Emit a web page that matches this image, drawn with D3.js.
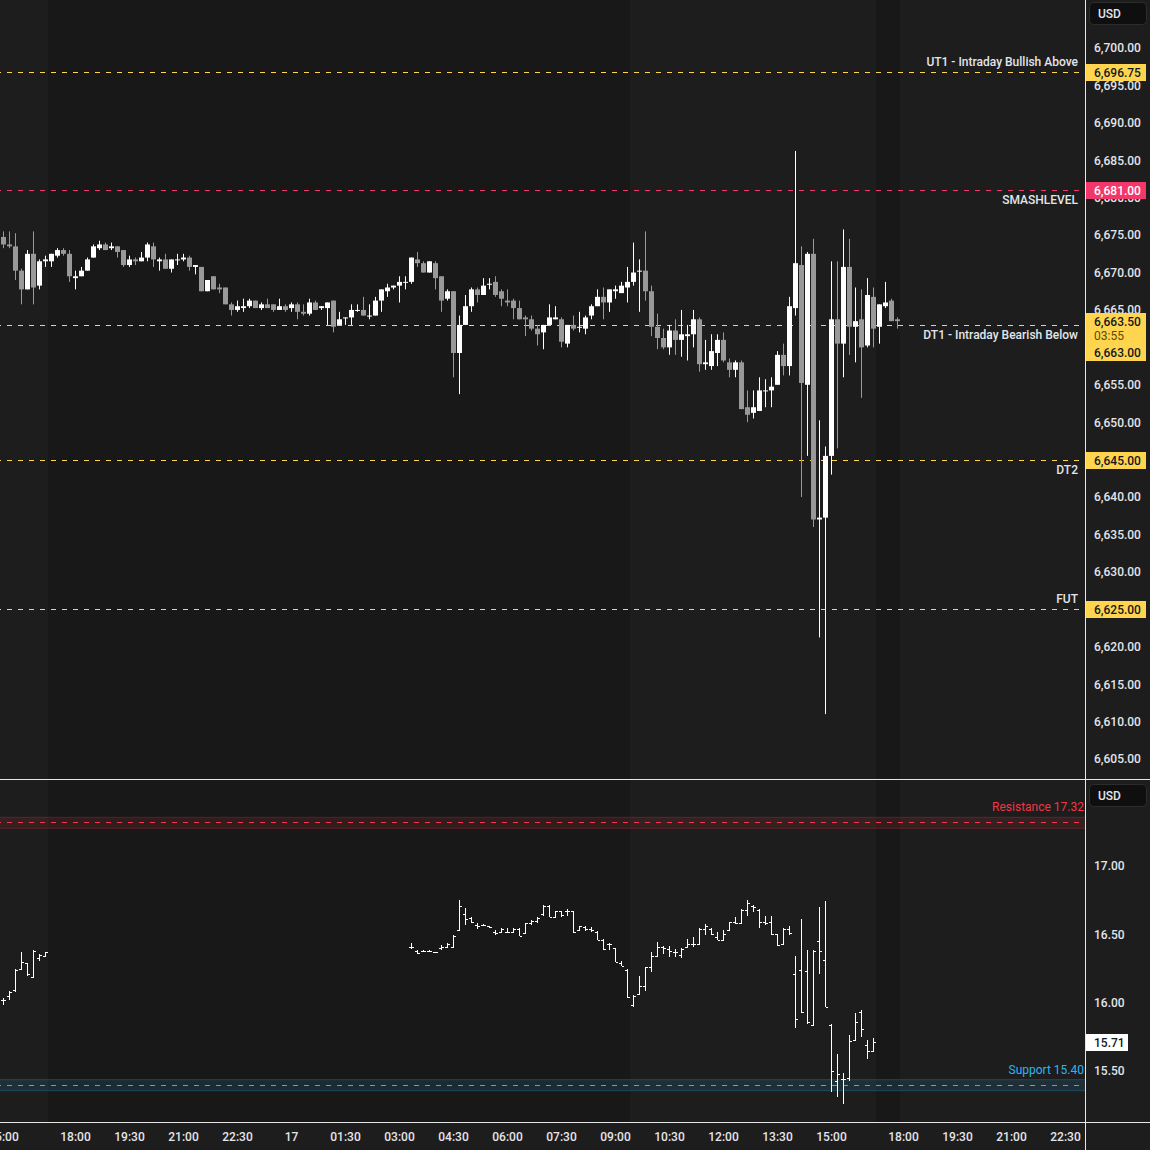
<!DOCTYPE html>
<html>
<head>
<meta charset="utf-8">
<script src="https://cdn.jsdelivr.net/npm/d3@7"></script>
<style>
  body { margin: 0; background: #1d1d1d; overflow: hidden; }
  svg text { font-family: Roboto, "Noto Sans", sans-serif; }
</style>
</head>
<body>
<div id="chart"></div>
<script>
// ES 10 min candles, [open, high, low, close], bar 0 = 15:00 on the 16th
const esBars = [
  [6674.75,6675.5,6673.25,6673.75],[6673.75,6675.5,6673.25,6673.5],[6673.5,6675.25,6669,6670.25],[6670.25,6670.5,6665.75,6667.75],
  [6667.75,6673,6667.75,6672.5],[6672.5,6675.5,6665.75,6668],[6668.25,6671.75,6667.75,6671.5],[6671.5,6672.25,6670.75,6671.75],
  [6671.5,6672.5,6670.75,6672.5],[6672.25,6673.25,6672,6673],[6673,6673.25,6672.25,6672.5],[6672.5,6673,6668.75,6669.5],
  [6669.25,6670.25,6667.75,6669.5],[6669.5,6670.75,6669.5,6670.25],[6670.25,6672,6670.25,6671.75],[6672,6673.75,6672,6673.5],
  [6673.25,6674.25,6673,6673.75],[6673.75,6674,6673,6673],[6673.25,6674,6673,6673.5],[6673.5,6673.5,6672,6672.75],
  [6673,6673,6670.75,6671],[6671,6672.25,6670.75,6671.75],[6671.75,6672,6671,6671.5],[6671.5,6672.75,6671.5,6672],
  [6672,6674,6671.5,6673.75],[6673.5,6674,6670.75,6671.75],[6671.5,6672,6670.25,6671.75],[6671.75,6672.5,6670.5,6670.5],
  [6670.5,6671.75,6670,6671.75],[6671.75,6672.5,6671,6671.75],[6671.75,6672.5,6671.5,6672],[6672,6672.25,6670.25,6670.75],
  [6670.75,6671,6669.75,6671],[6670.75,6670.75,6667.5,6667.5],[6667.5,6669,6667.5,6669],[6669.5,6669.5,6667.75,6667.75],
  [6668,6668.5,6667.25,6667.75],[6668,6668,6665.75,6665.75],[6665.75,6666,6664.25,6665],[6665,6666.25,6664.75,6665.5],
  [6665.25,6666.5,6664.75,6665.5],[6665.5,6666.5,6665.25,6666.25],[6666.25,6666.25,6665.25,6665.25],[6665.25,6666,6665,6665.75],
  [6665.75,6666.5,6665.25,6665.25],[6665.75,6665.75,6664.75,6665],[6665,6666.5,6665,6665.5],[6665.5,6665.75,6664.75,6665],
  [6665.25,6666,6664.75,6665.75],[6665.75,6666,6663.75,6664.75],[6664.75,6665.75,6664.25,6664.5],[6664.5,6666.5,6664.25,6666],
  [6666,6666.25,6665,6665],[6665.25,6665.5,6665,6665.5],[6665.25,6666,6663,6666],[6666.25,6666.25,6662,6662.75],
  [6663,6664.75,6663,6663.75],[6664,6664,6663,6664],[6664,6665.75,6663,6665],[6665,6665.75,6664.75,6665],
  [6665,6666.75,6664.25,6664.25],[6664.25,6665.75,6663.75,6664.25],[6664.25,6666.75,6664.25,6666.25],[6666.25,6667.75,6664.75,6667.75],
  [6667.5,6668.5,6666.75,6668],[6668,6668.25,6667.75,6668.25],[6668.25,6669.5,6666,6668.75],[6668.75,6669.5,6667.75,6668.75],
  [6668.75,6672,6668.5,6672],[6671.75,6672.75,6670.75,6671.25],[6671.25,6671.5,6670,6670],[6670,6671.5,6670,6671.5],
  [6671.25,6671.5,6667.75,6669.25],[6669.5,6669.5,6664.75,6666.25],[6666.5,6667.75,6666.25,6667.5],[6667.5,6667.5,6656,6659.25],
  [6659.25,6664.25,6653.75,6663],[6663,6667,6663,6665.5],[6665.5,6668,6664.75,6667.75],[6667.75,6668,6666,6667],
  [6667,6669.25,6667,6668.25],[6668.5,6669.25,6667.75,6668.5],[6668.75,6669.5,6666.75,6667],[6667.5,6667.75,6665.5,6666.5],
  [6666.25,6667.75,6665.5,6666],[6666.25,6666.5,6663.75,6665.25],[6665.25,6666.25,6663.75,6663.75],[6664,6664.25,6661.5,6663.75],
  [6663.75,6664.25,6662.25,6662.5],[6662.5,6663,6660.25,6661.75],[6662,6663,6659.75,6663],[6663,6665.75,6663,6664],
  [6663.75,6665.5,6663.75,6664],[6663.75,6664,6660,6660.75],[6660.5,6663,6660,6663],[6663,6664.25,6662.25,6662.5],
  [6662.75,6664.75,6662,6662.75],[6662.5,6664.25,6661.75,6664],[6664.25,6665.75,6663.75,6665.5],[6665.5,6667.75,6665.5,6666.75],
  [6666.75,6668,6663.75,6666],[6666,6667.75,6664.75,6667.75],[6667.5,6668.25,6666.5,6667.75],[6667.25,6668.75,6667.25,6668.25],
  [6668,6670.75,6666,6668.75],[6668.75,6674,6668.25,6670],[6670.25,6671.75,6664.75,6670.25],[6670.25,6675.5,6666.25,6667.5],
  [6667.5,6668.25,6661.5,6662.75],[6662.75,6664.5,6659.75,6661.25],[6661.25,6662.5,6659.75,6660],[6660,6663,6659,6662.25],
  [6662.25,6663.75,6659,6661],[6661,6665,6658.75,6661.75],[6661.5,6663,6658.25,6661.75],[6661.75,6665,6660,6663.75],
  [6663.75,6664,6656.75,6657.75],[6657.75,6661,6657,6658],[6657.5,6661.75,6657,6659.5],[6659.25,6661.75,6657.5,6661],
  [6661,6662,6658,6658.25],[6658,6658.5,6656,6657],[6657,6658.25,6656,6658],[6658,6658.25,6651.75,6651.75],
  [6652,6654.25,6650,6651],[6651.25,6654.25,6650.5,6652],[6651.5,6656,6651.5,6654.25],[6654.25,6655.75,6652,6654.25],
  [6654.25,6656,6652,6654.75],[6655,6659.5,6655,6659],[6659,6660.5,6656.25,6657.5],[6657.5,6666.75,6656.25,6665.5],
  [6665.25,6686.25,6664.25,6671.25],[6671,6673.5,6640,6655.25],[6655,6672.75,6645.5,6672.5],[6672.5,6674.5,6636,6637],
  [6637,6650.25,6621.25,6637.25],[6637.25,6646.75,6611,6645.5],[6645.5,6671.5,6643,6663.75],[6663.75,6671.5,6646.5,6660.5],
  [6660.5,6675.75,6656,6670.75],[6670.75,6674.5,6659,6662.75],[6662.75,6668,6658,6663.5],[6663.75,6667.75,6653.25,6660],
  [6660.25,6669.25,6660,6667],[6666.75,6668,6660,6662.5],[6662.75,6665.75,6660.5,6665.75],[6665.5,6668.75,6665.25,6666],
  [6666.25,6666.5,6663.5,6663.5],[6663.75,6664,6662.5,6663.5]
];

// VIX bars [open, high, low, close]; evening piece starts at bar 0, day piece at bar 68
const vixEveningStart = 0;
const vixEvening = [
  [16.02,16.03,15.99,16.02],[16.05,16.08,16.02,16.08],[16.09,16.24,16.08,16.24],[16.25,16.37,16.25,16.30],
  [16.29,16.29,16.20,16.21],[16.19,16.38,16.19,16.38],[16.33,16.35,16.31,16.35],[16.34,16.37,16.34,16.37]
];
const vixDayStart = 68;
const vixDay = [
  [16.41,16.43,16.40,16.41],[16.38,16.38,16.36,16.36],[16.38,16.38,16.38,16.38],[16.38,16.38,16.38,16.38],
  [16.37,16.37,16.37,16.37],[16.40,16.42,16.39,16.41],[16.41,16.43,16.41,16.43],[16.41,16.49,16.41,16.49],
  [16.53,16.75,16.53,16.71],[16.65,16.69,16.57,16.61],[16.62,16.62,16.59,16.59],[16.57,16.58,16.54,16.56],
  [16.57,16.57,16.57,16.57],[16.56,16.56,16.55,16.55],[16.52,16.53,16.50,16.51],[16.52,16.54,16.52,16.54],
  [16.52,16.54,16.52,16.52],[16.52,16.54,16.52,16.54],[16.54,16.54,16.49,16.49],[16.51,16.58,16.51,16.58],
  [16.58,16.60,16.57,16.60],[16.60,16.62,16.59,16.62],[16.65,16.71,16.64,16.71],[16.71,16.71,16.63,16.63],
  [16.63,16.67,16.63,16.67],[16.67,16.67,16.63,16.64],[16.67,16.68,16.64,16.67],[16.67,16.67,16.51,16.52],
  [16.53,16.56,16.53,16.56],[16.55,16.56,16.53,16.54],[16.54,16.55,16.52,16.53],[16.52,16.52,16.46,16.46],
  [16.46,16.46,16.39,16.39],[16.43,16.43,16.39,16.43],[16.40,16.40,16.30,16.30],[16.29,16.30,16.27,16.27],
  [16.24,16.24,16.04,16.04],[15.98,16.05,15.97,16.05],[16.06,16.19,16.06,16.12],[16.12,16.26,16.09,16.26],
  [16.26,16.37,16.23,16.34],[16.34,16.44,16.34,16.41],[16.41,16.41,16.36,16.40],[16.39,16.41,16.34,16.38],
  [16.37,16.39,16.34,16.37],[16.35,16.40,16.33,16.39],[16.41,16.46,16.41,16.43],[16.43,16.48,16.41,16.43],
  [16.43,16.54,16.43,16.54],[16.54,16.57,16.50,16.56],[16.54,16.54,16.50,16.50],[16.48,16.51,16.46,16.46],
  [16.46,16.53,16.46,16.50],[16.53,16.59,16.53,16.59],[16.59,16.62,16.58,16.58],[16.58,16.68,16.58,16.68],
  [16.68,16.75,16.64,16.73],[16.71,16.71,16.67,16.70],[16.68,16.68,16.55,16.59],[16.59,16.63,16.57,16.58],
  [16.59,16.63,16.50,16.50],[16.50,16.50,16.42,16.42],[16.43,16.54,16.43,16.54],[16.54,16.56,16.50,16.51],
  [16.21,16.34,15.82,15.88],[16.24,16.61,15.93,15.93],[16.23,16.38,15.85,15.86],[15.84,16.38,15.83,16.38],
  [16.45,16.70,16.21,16.38],[16.31,16.74,15.97,15.97],[15.84,15.84,15.35,15.50],[15.43,15.62,15.31,15.48],
  [15.44,15.48,15.26,15.44],[15.45,15.76,15.43,15.72],[15.73,15.92,15.73,15.86],[15.93,15.94,15.75,15.81],
  [15.69,15.72,15.59,15.65],[15.65,15.74,15.65,15.71]
];

// time axis labels at bar positions
const timeTicks = [0,12,21,30,39,48,57,66,75,84,93,102,111,120,129,138,150,159,168,177];
const timeLabels = ['15:00','18:00','19:30','21:00','22:30','17','01:30','03:00','04:30','06:00','07:30','09:00','10:30','12:00','13:30','15:00','18:00','19:30','21:00','22:30'];

// extended hours (darker) spans, in bar units
const extSessions = [[7.5,104.5],[145.5,149.5]];

// levels on the ES pane
const esLevels = [
  {name:'UT1 - Intraday Bullish Above', value:6696.75, color:'#ffd54f', labelAbove:true},
  {name:'SMASHLEVEL', value:6681.00, color:'#f2386a', labelAbove:false},
  {name:'DT1 - Intraday Bearish Below', value:6663.00, color:'#ffd54f', labelAbove:false},
  {name:'DT2', value:6645.00, color:'#ffd54f', labelAbove:false},
  {name:'FUT', value:6625.00, color:'#ffd54f', labelAbove:true}
];
const esLast = 6663.50;
const esCountdown = '03:55';
const vixLevels = [
  {name:'Resistance', value:17.32, color:'#f23645'},
  {name:'Support', value:15.40, color:'#29b6f6'}
];
const vixLast = 15.71;

// price ticks every 5; the ones sitting fully under a price tag are not shown
const esHiddenTicks = [6660, 6645, 6625];
const esTicks = d3.range(6605, 6701, 5).filter(v => !esHiddenTicks.includes(v));
const vixTicks = [15.5, 16, 16.5, 17];

// ---------------- drawing ----------------
const W = 1150, H = 1150;
const plotW = 1085;
const topH = 779, botY = 780, axisY = 1122;
const txtColor = '#e3e5ea';

const svg = d3.select('#chart').append('svg')
  .attr('width', W).attr('height', H)
  .style('display', 'block');

svg.append('rect').attr('width', W).attr('height', H).attr('fill', '#1d1d1d');

const x = d3.scaleLinear().domain([0, 180]).range([3, 1083]);
const yTop = d3.scaleLinear().domain([6605, 6700]).range([759, 48]);
const yBot = d3.scaleLinear().domain([15.5, 17]).range([1071, 866]);

const defs = svg.append('defs');
defs.append('clipPath').attr('id', 'clipTop')
  .append('rect').attr('x', 0).attr('y', 0).attr('width', plotW).attr('height', topH);
defs.append('clipPath').attr('id', 'clipBot')
  .append('rect').attr('x', 0).attr('y', botY).attr('width', plotW).attr('height', axisY - botY);

const topPane = svg.append('g').attr('clip-path', 'url(#clipTop)');
const botPane = svg.append('g').attr('clip-path', 'url(#clipBot)');

// session shading
[[topPane, 0, topH], [botPane, botY, axisY - botY]].forEach(([g, y0, h]) => {
  g.selectAll('rect.sess').data(extSessions).enter().append('rect')
    .attr('class', 'sess')
    .attr('x', d => x(d[0]))
    .attr('width', d => x(d[1]) - x(d[0]))
    .attr('y', y0).attr('height', h)
    .attr('fill', '#181818');
});

// ES level lines
topPane.selectAll('line.lvl').data(esLevels).enter().append('line')
  .attr('x1', 0).attr('x2', plotW)
  .attr('y1', d => Math.round(yTop(d.value)) + 0.5)
  .attr('y2', d => Math.round(yTop(d.value)) + 0.5)
  .attr('stroke', d => d.color)
  .attr('stroke-dasharray', '5,6')
  .attr('stroke-dashoffset', 4);

topPane.selectAll('text.lvl').data(esLevels).enter().append('text')
  .attr('x', 1078)
  .attr('y', d => yTop(d.value) + (d.labelAbove ? -6 : 14))
  .attr('text-anchor', 'end')
  .attr('font-size', 12)
  .attr('font-weight', 500)
  .attr('fill', txtColor)
  .text(d => d.name);

// candles
const candles = topPane.selectAll('g.candle').data(esBars).enter().append('g');
candles.append('line')
  .attr('x1', (d, i) => x(i) + 0.5).attr('x2', (d, i) => x(i) + 0.5)
  .attr('y1', d => yTop(d[1])).attr('y2', d => yTop(d[2]))
  .attr('stroke', d => d[3] >= d[0] ? '#ffffff' : '#999999')
  .attr('stroke-width', 1);
candles.append('rect')
  .attr('x', (d, i) => x(i) - 2)
  .attr('width', 5)
  .attr('y', d => yTop(Math.max(d[0], d[3])))
  .attr('height', d => Math.max(1, Math.abs(yTop(d[0]) - yTop(d[3]))))
  .attr('fill', d => d[3] >= d[0] ? '#ffffff' : '#999999');

// VIX level zones
botPane.selectAll('rect.zone').data(vixLevels).enter().append('rect')
  .attr('x', -1).attr('width', plotW + 2)
  .attr('y', d => yBot(d.value) - 5).attr('height', 11)
  .attr('fill', d => d.color).attr('fill-opacity', 0.12)
  .attr('stroke', d => d.color).attr('stroke-opacity', 0.25);
botPane.selectAll('line.zone').data(vixLevels).enter().append('line')
  .attr('x1', 0).attr('x2', plotW)
  .attr('y1', d => Math.round(yBot(d.value)) + 0.5)
  .attr('y2', d => Math.round(yBot(d.value)) + 0.5)
  .attr('stroke', d => d.color)
  .attr('stroke-dasharray', '5,6')
  .attr('stroke-dashoffset', 4);
botPane.selectAll('text.zone').data(vixLevels).enter().append('text')
  .attr('x', 1084)
  .attr('y', d => yBot(d.value) - 11)
  .attr('text-anchor', 'end')
  .attr('font-size', 12)
  .attr('fill', d => d.color)
  .text(d => d.name + ' ' + d.value.toFixed(2));

// VIX OHLC bars
const vixAll = vixEvening.map((d, k) => ({i: vixEveningStart + k, d}))
  .concat(vixDay.map((d, k) => ({i: vixDayStart + k, d})));
const vb = botPane.selectAll('g.vbar').data(vixAll).enter().append('g')
  .attr('stroke', '#ffffff').attr('stroke-width', 1)
  .attr('shape-rendering', 'crispEdges');
vb.append('line')
  .attr('x1', b => x(b.i) + 0.5).attr('x2', b => x(b.i) + 0.5)
  .attr('y1', b => yBot(b.d[1]) - 0.5).attr('y2', b => yBot(b.d[2]) + 0.5);
vb.append('line')
  .attr('x1', b => x(b.i) - 2).attr('x2', b => x(b.i) + 0.5)
  .attr('y1', b => Math.round(yBot(b.d[0])) + 0.5).attr('y2', b => Math.round(yBot(b.d[0])) + 0.5);
vb.append('line')
  .attr('x1', b => x(b.i) + 0.5).attr('x2', b => x(b.i) + 3)
  .attr('y1', b => Math.round(yBot(b.d[3])) + 0.5).attr('y2', b => Math.round(yBot(b.d[3])) + 0.5);

// price axes
const fmtEs = d3.format(',.2f');
const esAxis = svg.append('g')
  .attr('transform', `translate(${plotW},0)`)
  .call(d3.axisRight(yTop).tickValues(esTicks).tickFormat(fmtEs).tickSize(0).tickPadding(9));
const vixAxis = svg.append('g')
  .attr('transform', `translate(${plotW},0)`)
  .call(d3.axisRight(yBot).tickValues(vixTicks).tickFormat(d3.format('.2f')).tickSize(0).tickPadding(9));
[esAxis, vixAxis].forEach(a => {
  a.select('.domain').remove();
  a.selectAll('text').attr('fill', txtColor).attr('font-size', 12).attr('font-weight', 500)
    .attr('font-family', 'Roboto, "Noto Sans", sans-serif');
});

// time axis
const xAxis = svg.append('g')
  .attr('transform', `translate(0,${axisY})`)
  .call(d3.axisBottom(x).tickValues(timeTicks)
    .tickFormat((d, k) => timeLabels[k]).tickSize(0).tickPadding(10));
xAxis.select('.domain').remove();
xAxis.selectAll('text').attr('fill', txtColor).attr('font-size', 12).attr('font-weight', 500)
  .attr('font-family', 'Roboto, "Noto Sans", sans-serif');

// cover the time axis in the price-axis column
svg.append('rect').attr('x', plotW + 1).attr('y', axisY + 1)
  .attr('width', W - plotW).attr('height', H - axisY).attr('fill', '#1d1d1d');

// price labels on the axis
function priceTag(yv, txt, fill, color, w) {
  const g = svg.append('g');
  g.append('rect').attr('x', plotW + 1).attr('y', Math.round(yv) - 8)
    .attr('width', w || 60).attr('height', 17).attr('fill', fill);
  g.append('text').attr('x', 1094).attr('y', Math.round(yv) + 4.5)
    .attr('font-size', 12).attr('font-weight', 500).attr('fill', color).text(txt);
}
esLevels.filter(d => d.value !== 6663.00).forEach(d => {
  priceTag(yTop(d.value), fmtEs(d.value), d.color, d.color === '#ffd54f' ? '#131722' : '#ffffff');
});
// last price with countdown, DT1 tag stacked below
const yl = Math.round(yTop(esLast));
svg.append('rect').attr('x', plotW + 1).attr('y', yl - 8).attr('width', 60).attr('height', 31).attr('fill', '#ffd54f');
svg.append('text').attr('x', 1094).attr('y', yl + 4.5).attr('font-size', 12).attr('font-weight', 500).attr('fill', '#131722').text(fmtEs(esLast));
svg.append('text').attr('x', 1094).attr('y', yl + 19).attr('font-size', 12).attr('fill', '#5d4a00').text(esCountdown);
svg.append('rect').attr('x', plotW + 1).attr('y', yl + 23).attr('width', 60).attr('height', 17).attr('fill', '#ffd54f');
svg.append('text').attr('x', 1094).attr('y', yl + 36).attr('font-size', 12).attr('font-weight', 500).attr('fill', '#131722').text(fmtEs(6663.00));

priceTag(yBot(vixLast), vixLast.toFixed(2), '#ffffff', '#131722', 42);

// currency boxes
[2, 784].forEach(y0 => {
  svg.append('rect').attr('x', 1089.5).attr('y', y0 + 0.5).attr('width', 57).attr('height', 22).attr('rx', 4)
    .attr('fill', '#0f0f0f').attr('stroke', '#2c2c2c');
  svg.append('text').attr('x', 1098).attr('y', y0 + 16).attr('font-size', 12).attr('font-weight', 500).attr('fill', txtColor).text('USD');
});

// frame lines
svg.append('line').attr('x1', plotW + 0.5).attr('x2', plotW + 0.5).attr('y1', 0).attr('y2', H)
  .attr('stroke', '#e6e6e6');
svg.append('line').attr('x1', 0).attr('x2', W).attr('y1', topH + 0.5).attr('y2', topH + 0.5)
  .attr('stroke', '#e6e6e6');
svg.append('line').attr('x1', 0).attr('x2', W).attr('y1', axisY + 0.5).attr('y2', axisY + 0.5)
  .attr('stroke', '#e6e6e6');
</script>
</body>
</html>
